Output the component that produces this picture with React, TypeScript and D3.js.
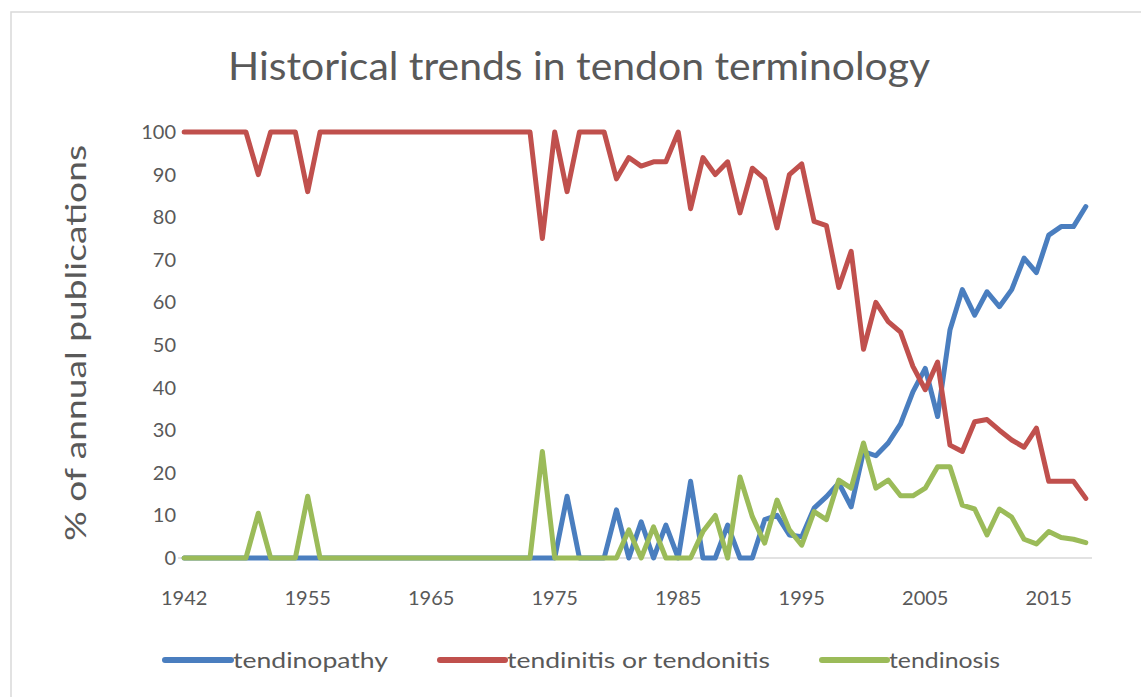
import React from 'react'
import * as d3 from 'd3'

// categories (a few early years have no publications, so they are skipped)
const years = [
  '1942', '1944', '1946', '1948', '1949', '1950', '1951', '1952', '1953', '1954',
  '1955', '1956', '1957', '1958', '1959', '1960', '1961', '1962', '1963', '1964',
  '1965', '1966', '1967', '1968', '1969', '1970', '1971', '1972', '1973', '1974',
  '1975', '1976', '1977', '1978', '1979', '1980', '1981', '1982', '1983', '1984',
  '1985', '1986', '1987', '1988', '1989', '1990', '1991', '1992', '1993', '1994',
  '1995', '1996', '1997', '1998', '1999', '2000', '2001', '2002', '2003', '2004',
  '2005', '2006', '2007', '2008', '2009', '2010', '2011', '2012', '2013', '2014',
  '2015', '2016', '2017', '2018',
]

const tendinopathy = [
  0, 0, 0, 0, 0, 0, 0, 0, 0, 0,
  0, 0, 0, 0, 0, 0, 0, 0, 0, 0,
  0, 0, 0, 0, 0, 0, 0, 0, 0, 0,
  0, 14.5, 0, 0, 0, 11.3, 0, 8.5, 0, 7.7,
  0, 18, 0, 0, 7.7, 0, 0, 9, 10, 5.4,
  5, 11.7, 14.4, 17.6, 12, 25, 24, 27, 31.5, 39,
  44.5, 33.2, 53.5, 63, 57, 62.5, 59, 63, 70.4, 67,
  75.8, 77.8, 77.8, 82.5,
]

const tendinitis = [
  100, 100, 100, 100, 100, 100, 90, 100, 100, 100,
  86, 100, 100, 100, 100, 100, 100, 100, 100, 100,
  100, 100, 100, 100, 100, 100, 100, 100, 100, 75,
  100, 86, 100, 100, 100, 89, 94, 92, 93, 93,
  100, 82, 94, 90, 93, 81, 91.5, 89, 77.5, 90,
  92.5, 79, 78, 63.5, 72, 49, 60, 55.5, 53, 45,
  39.5, 46, 26.5, 25, 32, 32.5, 30, 27.7, 26, 30.5,
  18, 18, 18, 14,
]

const tendinosis = [
  0, 0, 0, 0, 0, 0, 10.5, 0, 0, 0,
  14.5, 0, 0, 0, 0, 0, 0, 0, 0, 0,
  0, 0, 0, 0, 0, 0, 0, 0, 0, 25,
  0, 0, 0, 0, 0, 0, 6.6, 0, 7.3, 0,
  0, 0, 6.2, 10, 0, 19, 9.7, 3.5, 13.6, 6.6,
  3, 10.9, 9, 18.3, 16.4, 27, 16.4, 18.3, 14.6, 14.6,
  16.4, 21.4, 21.4, 12.4, 11.5, 5.4, 11.5, 9.6, 4.4, 3.3,
  6.2, 4.8, 4.4, 3.6,
]

const xLabels = ['1942', '1955', '1965', '1975', '1985', '1995', '2005', '2015']
const yTicks = [0, 10, 20, 30, 40, 50, 60, 70, 80, 90, 100]

const seriesNames = ['tendinopathy', 'tendinitis or tendonitis', 'tendinosis']
const colors = ['#4a7ebf', '#c0504d', '#9bbb59']

const font = 'Lato, "Open Sans", sans-serif'
const textColor = '#595959'

export default function App() {
  const width = 1141
  const height = 697

  const x = d3.scalePoint<string>().domain(years).range([178, 1092]).padding(0.5)
  const y = d3.scaleLinear().domain([0, 100]).range([558, 132])

  const line = d3.line<number>()
    .x((d, i) => x(years[i]) as number)
    .y(d => y(d))

  const allSeries = [tendinopathy, tendinitis, tendinosis]

  // legend spots: [line start, line end, text width]
  const legend = [
    [165, 231, 155],
    [440, 505, 263],
    [822, 887, 111],
  ]

  return (
    <svg width={width} height={height} style={{position: 'absolute', left: 0, top: 0}} fontFamily={font}>
      <rect x={0} y={0} width={width} height={height} fill="#fff" />
      <rect x={11} y={12} width={width + 10} height={height + 10} fill="none" stroke="#d9d9d9" strokeWidth={1.5} />

      <text x={579} y={80} textAnchor="middle" fontSize={38} fill={textColor}
        textLength={702} lengthAdjust="spacingAndGlyphs">
        Historical trends in tendon terminology
      </text>

      {/* y axis labels, no axis line */}
      {yTicks.map(t => (
        <text key={t} x={176} y={y(t)} dy="0.35em" textAnchor="end" fontSize={20} fill={textColor}>{t}</text>
      ))}
      <text transform="translate(86,343) rotate(-90)" textAnchor="middle" fontSize={29} fill={textColor}
        textLength={396} lengthAdjust="spacingAndGlyphs">
        % of annual publications
      </text>

      {/* category axis */}
      <line x1={178} x2={1092} y1={y(0)} y2={y(0)} stroke="#d9d9d9" strokeWidth={1.5} />
      {xLabels.map(l => (
        <text key={l} x={x(l)} y={605} textAnchor="middle" fontSize={20} fill={textColor}>{l}</text>
      ))}

      {allSeries.map((s, i) => (
        <path key={i} d={line(s) as string} fill="none" stroke={colors[i]} strokeWidth={5}
          strokeLinejoin="round" strokeLinecap="round" />
      ))}

      {seriesNames.map((name, i) => (
        <g key={name}>
          <line x1={legend[i][0]} x2={legend[i][1]} y1={660} y2={660} stroke={colors[i]} strokeWidth={6} strokeLinecap="round" />
          <text x={legend[i][1] + 2} y={660} dy="0.35em" fontSize={22} fill={textColor}
            textLength={legend[i][2]} lengthAdjust="spacingAndGlyphs">{name}</text>
        </g>
      ))}
    </svg>
  )
}
